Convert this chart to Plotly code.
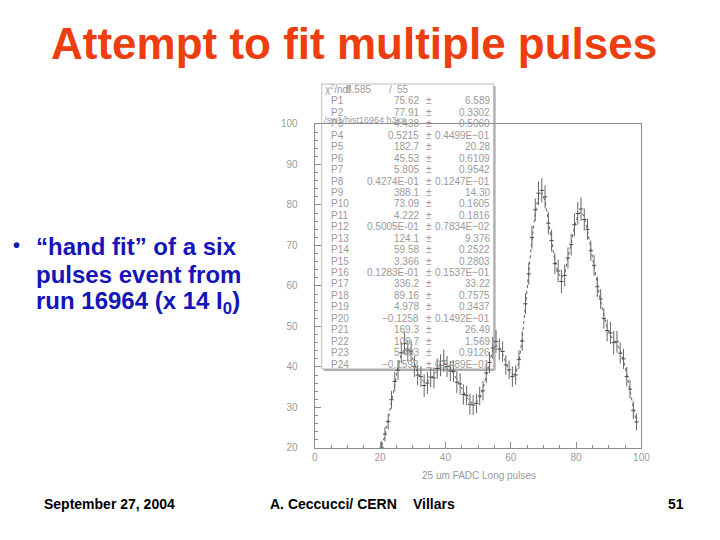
from __future__ import annotations

import plotly.graph_objects as go
from plotly.graph_objs import Figure

W, H = 720, 540

# histogram bins (centres), measured counts, errors and the fitted curve
BIN_CENTRES = [
    20.5, 21.5, 22.5, 23.5, 24.5, 25.5, 26.5, 27.5, 28.5, 29.5,
    30.5, 31.5, 32.5, 33.5, 34.5, 35.5, 36.5, 37.5, 38.5, 39.5,
    40.5, 41.5, 42.5, 43.5, 44.5, 45.5, 46.5, 47.5, 48.5, 49.5,
    50.5, 51.5, 52.5, 53.5, 54.5, 55.5, 56.5, 57.5, 58.5, 59.5,
    60.5, 61.5, 62.5, 63.5, 64.5, 65.5, 66.5, 67.5, 68.5, 69.5,
    70.5, 71.5, 72.5, 73.5, 74.5, 75.5, 76.5, 77.5, 78.5, 79.5,
    80.5, 81.5, 82.5, 83.5, 84.5, 85.5, 86.5, 87.5, 88.5, 89.5,
    90.5, 91.5, 92.5, 93.5, 94.5, 95.5, 96.5, 97.5, 98.5,
]
COUNTS = [
    20.2, 23.4, 26.5, 31.9, 36.4, 39.2, 43.5, 45.8, 44.0, 43.9,
    40.1, 38.0, 37.6, 35.4, 36.0, 37.5, 37.3, 39.6, 40.4, 41.5,
    40.1, 39.0, 38.9, 36.2, 35.8, 33.2, 32.9, 30.8, 30.6, 31.0,
    32.8, 34.1, 38.5, 41.1, 44.7, 46.3, 44.4, 43.8, 40.5, 39.3,
    37.6, 38.0, 41.8, 46.4, 55.6, 63.0, 72.0, 78.8, 82.9, 83.6,
    82.0, 75.5, 71.2, 65.5, 63.7, 61.1, 62.6, 66.9, 70.2, 75.1,
    77.9, 79.0, 76.4, 74.0, 68.7, 65.1, 59.8, 56.8, 52.0, 49.0,
    48.4, 46.0, 46.2, 43.4, 42.0, 37.6, 34.5, 29.3, 26.4,
]
ERRORS = [
    1.5, 1.8, 2.0, 2.2, 2.4, 2.5, 2.6, 2.8, 2.7, 2.6,
    2.6, 2.5, 2.6, 2.8, 2.7, 2.5, 2.6, 2.5, 2.7, 2.8,
    2.6, 2.5, 2.6, 2.7, 2.6, 2.5, 2.4, 2.6, 2.5, 2.4,
    2.3, 2.4, 2.5, 2.6, 2.7, 2.8, 2.6, 2.5, 2.4, 2.3,
    2.5, 2.4, 2.3, 2.4, 2.6, 2.7, 2.8, 2.8, 2.9, 3.0,
    2.9, 2.8, 2.7, 2.6, 2.8, 2.9, 2.7, 2.6, 2.7, 2.8,
    2.8, 2.9, 2.7, 2.6, 2.5, 2.6, 2.5, 2.4, 2.5, 2.7,
    2.8, 2.9, 2.7, 2.6, 2.5, 2.4, 2.3, 2.2, 2.1,
]
FIT = [
    20.5, 23.0, 27.0, 31.5, 36.0, 40.0, 43.0, 44.5, 44.6, 43.2,
    40.8, 38.6, 37.1, 36.3, 36.3, 37.0, 38.0, 39.1, 40.0, 40.6,
    40.6, 39.8, 38.4, 36.9, 35.4, 33.9, 32.5, 31.5, 31.0, 31.2,
    32.4, 34.6, 38.0, 41.6, 44.2, 45.3, 44.9, 43.2, 41.0, 39.0,
    38.0, 38.4, 41.2, 47.0, 55.0, 63.5, 71.5, 78.0, 82.2, 83.0,
    81.0, 76.2, 70.8, 66.2, 63.2, 62.0, 63.0, 66.4, 70.6, 74.6,
    77.4, 78.4, 77.0, 73.6, 69.2, 64.6, 60.2, 56.2, 52.6, 49.8,
    47.8, 46.6, 45.6, 44.0, 41.6, 38.2, 34.2, 30.0, 26.0,
]

# fit statistics box
CHI2_NDF = ("6.585", "55")
PAR_NAMES = [f"P{i}" for i in range(1, 25)]
PAR_VALUES = [
    "75.62", "77.91", "4.438", "0.5215", "182.7", "45.53", "5.805", "0.4274E-01",
    "388.1", "73.09", "4.222", "0.5005E-01", "124.1", "59.58", "3.366", "0.1283E-01",
    "336.2", "89.16", "4.978", "\u22120.1258", "169.3", "100.7", "5.403", "\u22120.1592",
]
PAR_ERRORS = [
    "6.589", "0.3302", "0.5060", "0.4499E\u221201", "20.28", "0.6109", "0.9542",
    "0.1247E\u221201", "14.30", "0.1605", "0.1816", "0.7834E\u221202", "9.376", "0.2522",
    "0.2803", "0.1537E\u221201", "33.22", "0.7575", "0.3437", "0.1492E\u221201", "26.49",
    "1.569", "0.9126", "0.5489E\u221201",
]

TITLE = "Attempt to fit multiple pulses"
BULLET_LINES = ["\u201chand fit\u201d of a six", "pulses event from", "run 16964 (x 14 I<sub>0</sub>)"]
FOOTER = [("September 27, 2004", 44), ("A. Ceccucci/ CERN", 269), ("Villars", 411), ("51", 664)]

GREY_TXT = "#9a9a9a"
AXIS_GREY = "#8c8c8c"

# the photographed page comes out slightly shrunk and offset; undo that here
SHOT_SCALE = 0.978
SHOT_OFFSET = 5


def _px(x: float) -> float:
    return (x - SHOT_OFFSET) / SHOT_SCALE / W


def _py(y: float) -> float:
    return 1 - (y - SHOT_OFFSET) / SHOT_SCALE / H


def _text(fig: Figure, x, y, text, size, color, xanchor="left", family="Liberation Sans", **kw) -> None:
    fig.add_annotation(
        x=_px(x), y=_py(y), xref="paper", yref="paper", text=text, showarrow=False,
        xanchor=xanchor, yanchor="middle", font=dict(family=family, size=size, color=color),
        **kw,
    )


def _add_traces(fig: Figure) -> None:
    fig.add_trace(go.Scatter(
        x=BIN_CENTRES, y=FIT, mode="lines",
        line=dict(color="#5a5a5a", width=1, dash="dot"), hoverinfo="skip",
    ))
    fig.add_trace(go.Scatter(
        x=BIN_CENTRES, y=COUNTS, mode="markers",
        marker=dict(symbol="line-ew-open", size=3, color="#4a4a4a",
                    line=dict(color="#4a4a4a", width=1)),
        error_y=dict(type="data", array=ERRORS, width=0, thickness=1, color="#666666"),
    ))


def _configure_axes(fig: Figure) -> None:
    common = dict(
        showline=True, linecolor=AXIS_GREY, linewidth=1, mirror=True,
        showgrid=False, zeroline=False, ticks="inside", tickcolor=AXIS_GREY,
        tickfont=dict(family="Liberation Sans", size=10, color=GREY_TXT),
    )
    fig.update_xaxes(
        range=[0, 100], dtick=20, ticklen=6, domain=[_px(315), _px(640)],
        minor=dict(dtick=5, ticklen=3, ticks="inside", tickcolor=AXIS_GREY),
        **common,
    )
    fig.update_yaxes(
        range=[20, 100], dtick=10, ticklen=6, domain=[_py(447), _py(123)],
        ticklabelstandoff=14,
        minor=dict(dtick=2, ticklen=3, ticks="inside", tickcolor=AXIS_GREY),
        **common,
    )


def _add_stats_box(fig: Figure) -> None:
    x0, x1, y0, y1 = 322, 493, 83, 368
    fig.add_shape(type="rect", xref="paper", yref="paper",
                  x0=_px(x0), x1=_px(x1), y0=_py(y1), y1=_py(y0),
                  line=dict(color="#bdbdbd", width=1), fillcolor="white", layer="below")
    # shadow on bottom and right edges
    fig.add_shape(type="line", xref="paper", yref="paper",
                  x0=_px(x0 + 2), x1=_px(x1 + 1), y0=_py(y1 + 1), y1=_py(y1 + 1),
                  line=dict(color="#b0b0b0", width=2), layer="below")
    fig.add_shape(type="line", xref="paper", yref="paper",
                  x0=_px(x1 + 1), x1=_px(x1 + 1), y0=_py(y1 + 1), y1=_py(y0 + 2),
                  line=dict(color="#b0b0b0", width=2), layer="below")

    _text(fig, 323, 88.5, "\u03c7<sup>2</sup>/ndf", 10, GREY_TXT)
    _text(fig, 373, 88.5, CHI2_NDF[0], 10, GREY_TXT, xanchor="right")
    _text(fig, 390, 88.5, "/", 10, GREY_TXT, xanchor="center")
    _text(fig, 411, 88.5, CHI2_NDF[1], 10, GREY_TXT, xanchor="right")

    for i, (name, val, err) in enumerate(zip(PAR_NAMES, PAR_VALUES, PAR_ERRORS)):
        y = 100 + 11.44 * i
        _text(fig, 329, y, name, 10, GREY_TXT)
        _text(fig, 421, y, val, 10, GREY_TXT, xanchor="right")
        _text(fig, 429, y, "\u00b1", 10, GREY_TXT, xanchor="center")
        _text(fig, 491, y, err, 10, GREY_TXT, xanchor="right")

    _text(fig, 322, 119, "/sw1/hist16964 h3xx", 9, GREY_TXT)


def _add_slide_text(fig: Figure) -> None:
    _text(fig, 354, 43, f"<b>{TITLE}</b>", 44, "#ee3d0e", xanchor="center")

    _text(fig, 18, 244, "<b>\u2022</b>", 20, "#1414b8", xanchor="center")
    for i, line in enumerate(BULLET_LINES):
        _text(fig, 36, 246 + 28 * i, f"<b>{line}</b>", 24, "#1414b8")

    for label, x in FOOTER:
        _text(fig, x, 503, f"<b>{label}</b>", 14, "black")

    _text(fig, 478, 475, "25 um FADC Long pulses", 10, GREY_TXT, xanchor="center")


fig = go.Figure()
_add_traces(fig)
_configure_axes(fig)
_add_stats_box(fig)
_add_slide_text(fig)
fig.update_layout(
    width=W, height=H, margin=dict(l=0, r=0, t=0, b=0),
    paper_bgcolor="white", plot_bgcolor="rgba(0,0,0,0)", showlegend=False,
)
# drop the page's default body margin so the figure sits at the window's origin
fig.write_html(
    "out.html",
    config={"displayModeBar": False},
    post_script="document.body.style.margin = '0';",
)
